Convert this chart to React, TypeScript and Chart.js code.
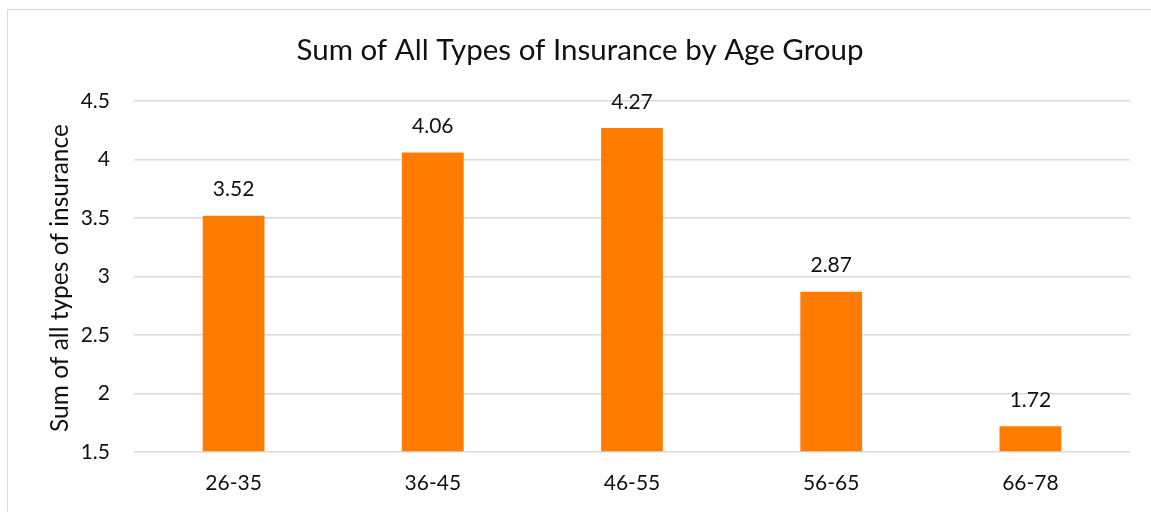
import React, { useEffect, useRef } from "react";
import { Chart, registerables } from "chart.js";

Chart.register(...registerables);

const categories = ["26-35", "36-45", "46-55", "56-65", "66-78"];
const values = [3.52, 4.06, 4.27, 2.87, 1.72];
const chartTitle = "Sum of All Types of Insurance by Age Group";
const yAxisTitle = "Sum of all types of insurance";
const yMin = 1.5;
const yMax = 4.5;
const yStep = 0.5;

const FONT = "Lato, 'Open Sans', sans-serif";
const TEXT = "#111111";

const decorPlugin = {
  id: "decor",
  beforeDraw(chart: any) {
    const ctx = chart.ctx;
    ctx.save();
    ctx.fillStyle = "#ffffff";
    ctx.fillRect(0, 0, chart.width, chart.height);
    ctx.strokeStyle = "#d9d9d9";
    ctx.lineWidth = 1;
    ctx.beginPath();
    ctx.moveTo(7.5, chart.height + 5);
    ctx.lineTo(7.5, 9.5);
    ctx.lineTo(chart.width + 5, 9.5);
    ctx.stroke();
    ctx.restore();
  },
  afterDraw(chart: any) {
    const ctx = chart.ctx;
    ctx.save();
    ctx.fillStyle = TEXT;
    ctx.textAlign = "center";
    ctx.textBaseline = "middle";
    ctx.font = `29.5px ${FONT}`;
    ctx.fillText(chartTitle, 580, 50);
    ctx.font = `24.5px ${FONT}`;
    ctx.translate(60, 278);
    ctx.rotate(-Math.PI / 2);
    ctx.fillText(yAxisTitle, 0, 0);
    ctx.restore();

    // data labels
    const meta = chart.getDatasetMeta(0);
    ctx.save();
    ctx.fillStyle = TEXT;
    ctx.textAlign = "center";
    ctx.textBaseline = "middle";
    ctx.font = `21px ${FONT}`;
    meta.data.forEach((bar: any, i: number) => {
      ctx.fillText(values[i].toFixed(2), bar.x, bar.y - 26);
    });
    ctx.restore();
  },
};

export default function App() {
  const ref = useRef<HTMLCanvasElement | null>(null);
  useEffect(() => {
    document.body.style.margin = "0";
    const canvas = ref.current!;
    const chart = new Chart(canvas, {
      type: "bar",
      data: {
        labels: categories,
        datasets: [
          {
            data: values,
            backgroundColor: "#FF7C00",
            borderWidth: 0,
            barPercentage: 0.62,
            categoryPercentage: 0.5,
            base: yMin,
          },
        ],
      },
      options: {
        responsive: false,
        animation: false,
        devicePixelRatio: 1,
        layout: { padding: { top: 101, right: 21, bottom: 0, left: 0 } },
        plugins: {
          legend: { display: false },
          title: { display: false },
          tooltip: { enabled: false },
        },
        scales: {
          x: {
            grid: { display: false, drawTicks: false },
            border: { display: false },
            ticks: {
              color: TEXT,
              font: { family: FONT, size: 21 },
              padding: 19,
            },
            afterFit: (s: any) => {
              s.height = 60;
            },
          },
          y: {
            min: yMin,
            max: yMax,
            grid: { color: "#d9d9d9", lineWidth: 1.5, drawTicks: false },
            border: { display: false },
            ticks: {
              stepSize: yStep,
              color: TEXT,
              font: { family: FONT, size: 21 },
              padding: 24,
              callback: (v: any) => String(Number(v)),
            },
            afterFit: (s: any) => {
              s.width = 134;
            },
          },
        },
      },
      plugins: [decorPlugin],
    });
    return () => chart.destroy();
  }, []);
  return (
    <div style={{ width: 1151, height: 512 }}>
      <canvas ref={ref} width={1151} height={512} style={{ display: "block" }} />
    </div>
  );
}
